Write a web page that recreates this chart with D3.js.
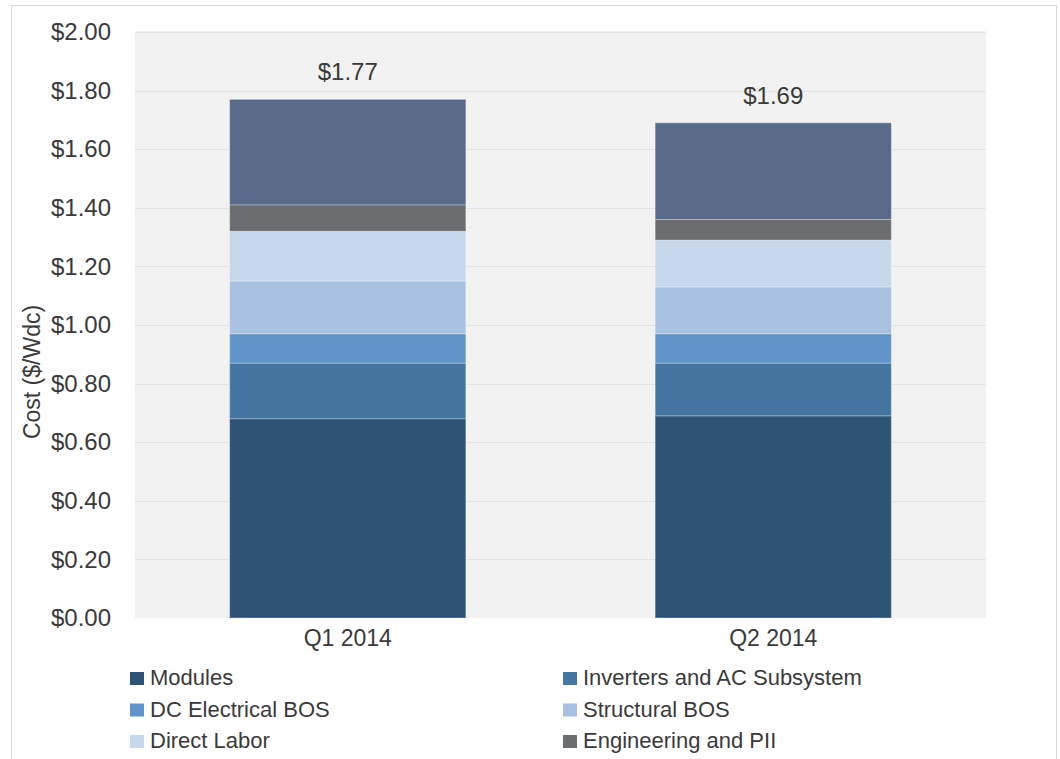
<!DOCTYPE html>
<html>
<head>
<meta charset="utf-8">
<script src="https://cdn.jsdelivr.net/npm/d3@7"></script>
<style>
  body { margin: 0; background: #fff; }
  svg { display: block; }
</style>
</head>
<body>
<svg id="chart" width="1060" height="759"></svg>
<script>
// data
const quarters = ["Q1 2014", "Q2 2014"];
const seriesNames = [
  "Modules",
  "Inverters and AC Subsystem",
  "DC Electrical BOS",
  "Structural BOS",
  "Direct Labor",
  "Engineering and PII",
  "Supply Chain, Overhead and Margin"
];
const seriesColors = ["#2f5277", "#4576a1", "#6195c9", "#a9c1e1", "#c7d8ed", "#6c6d70", "#5a6b8a"];
const modules     = [0.68, 0.69];
const inverters   = [0.19, 0.18];
const dcBos       = [0.10, 0.10];
const structBos   = [0.18, 0.16];
const directLabor = [0.17, 0.16];
const engineering = [0.09, 0.07];
const overhead    = [0.36, 0.33];
const totalLabels = ["$1.77", "$1.69"];
const yTicks = [0, 0.2, 0.4, 0.6, 0.8, 1.0, 1.2, 1.4, 1.6, 1.8, 2.0];

const seriesValues = [modules, inverters, dcBos, structBos, directLabor, engineering, overhead];

const rows = quarters.map((q, i) => {
  const r = { quarter: q };
  seriesNames.forEach((s, j) => r[s] = seriesValues[j][i]);
  return r;
});

const svg = d3.select("#chart");
const margin = { top: 32, right: 74, bottom: 141, left: 135 };
const width = 1060 - margin.left - margin.right;
const height = 759 - margin.top - margin.bottom;

const font = "'Liberation Sans', Arial, sans-serif";
const textColor = "#3a3a3a";

// outer chart border
svg.append("rect")
    .attr("x", 11.5).attr("y", 5.5)
    .attr("width", 1045).attr("height", 800)
    .attr("fill", "none")
    .attr("stroke", "#d9d9d9");

const g = svg.append("g").attr("transform", "translate(" + margin.left + "," + margin.top + ")");

const x = d3.scaleBand()
    .domain(quarters)
    .range([0, width])
    .paddingInner(0.445)
    .paddingOuter(0.2225);

const y = d3.scaleLinear()
    .domain([0, 2])
    .range([height, 0]);

// plot area
g.append("rect")
    .attr("x", 0).attr("y", -1)
    .attr("width", width).attr("height", height + 1)
    .attr("fill", "#f2f2f2");

g.append("g")
    .selectAll("line")
    .data(yTicks.slice(1))
    .join("line")
      .attr("x1", 0).attr("x2", width)
      .attr("y1", d => Math.round(y(d)) + 0.5)
      .attr("y2", d => Math.round(y(d)) + 0.5)
      .attr("stroke", "#e3e3e3");

// y axis
const yAxis = g.append("g")
    .call(d3.axisLeft(y).tickValues(yTicks).tickFormat(d3.format("$.2f")).tickSize(0).tickPadding(24));
yAxis.select(".domain").remove();
yAxis.selectAll("text")
    .attr("font-family", font)
    .attr("font-size", 24)
    .attr("fill", textColor);

// x axis
const xAxis = g.append("g")
    .attr("transform", "translate(0," + height + ")")
    .call(d3.axisBottom(x).tickSize(0).tickPadding(12));
xAxis.select(".domain").remove();
xAxis.selectAll("text")
    .attr("font-family", font)
    .attr("font-size", 23)
    .attr("fill", textColor);

// stacked bars
const stack = d3.stack().keys(seriesNames);
const layers = stack(rows);

g.append("g")
    .selectAll("g")
    .data(layers)
    .join("g")
      .attr("fill", (d, i) => seriesColors[i])
    .selectAll("rect")
    .data(d => d)
    .join("rect")
      .attr("x", d => x(d.data.quarter))
      .attr("width", x.bandwidth())
      .attr("y", d => y(d[1]))
      .attr("height", d => y(d[0]) - y(d[1]))
      .attr("stroke", "rgba(255,255,255,0.28)")
      .attr("stroke-width", 1);

// totals
g.append("g")
    .selectAll("text")
    .data(rows)
    .join("text")
      .attr("x", d => x(d.quarter) + x.bandwidth() / 2)
      .attr("y", (d, i) => y(d3.sum(seriesValues, s => s[i])) - 19)
      .attr("text-anchor", "middle")
      .attr("font-family", font)
      .attr("font-size", 24)
      .attr("fill", textColor)
      .text((d, i) => totalLabels[i]);

// y axis title
svg.append("text")
    .attr("transform", "translate(40,372) rotate(-90)")
    .attr("text-anchor", "middle")
    .attr("font-family", font)
    .attr("font-size", 23)
    .attr("fill", textColor)
    .text("Cost ($/Wdc)");

// legend, two columns; only the six entries visible in the frame
const legendX = [130, 563];
const legendY = 685;
const legendStep = 31.5;

const legend = svg.append("g")
    .selectAll("g")
    .data(seriesNames.slice(0, 6))
    .join("g")
      .attr("transform", (d, i) => "translate(" + legendX[i % 2] + "," + (legendY + Math.floor(i / 2) * legendStep) + ")");

legend.append("rect")
    .attr("x", 0).attr("y", -13)
    .attr("width", 14).attr("height", 13)
    .attr("fill", (d, i) => seriesColors[i]);

legend.append("text")
    .attr("x", 20).attr("y", 0)
    .attr("font-family", font)
    .attr("font-size", 22)
    .attr("fill", textColor)
    .text(d => d);
</script>
</body>
</html>
